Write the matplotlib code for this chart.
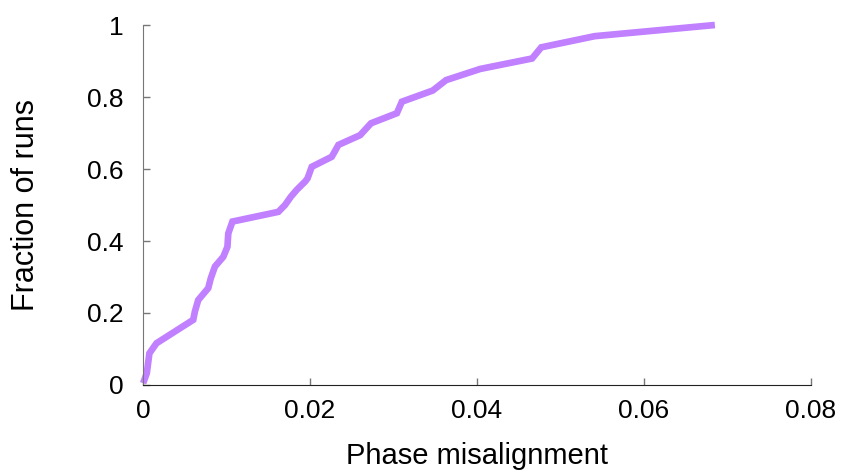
import numpy as np
import matplotlib.pyplot as plt

plt.rcParams['font.family'] = ['Liberation Sans', 'DejaVu Sans']

# phase misalignment (x) vs cumulative fraction of runs (y)
misalign = [0.0000, 0.00044, 0.00075, 0.0016, 0.0060, 0.0062, 0.0066, 0.0078,
            0.0081, 0.0086, 0.0096, 0.0101, 0.0102, 0.0107, 0.0162, 0.0170,
            0.0177, 0.0184, 0.0194, 0.0197, 0.0202, 0.0226, 0.0234, 0.0260,
            0.0273, 0.0304, 0.0310, 0.0347, 0.0363, 0.0404, 0.0466, 0.0477,
            0.0541, 0.0685]
frac = [0.005, 0.033, 0.088, 0.116, 0.181, 0.204, 0.236, 0.269,
        0.296, 0.329, 0.356, 0.384, 0.421, 0.454, 0.481, 0.500,
        0.523, 0.542, 0.565, 0.574, 0.606, 0.634, 0.667, 0.694,
        0.727, 0.755, 0.787, 0.818, 0.847, 0.878, 0.907, 0.938,
        0.969, 1.0]

xticks = [0, 0.02, 0.04, 0.06, 0.08]
xtick_labels = ['0', '0.02', '0.04', '0.06', '0.08']
yticks = [0, 0.2, 0.4, 0.6, 0.8, 1]
ytick_labels = ['0', '0.2', '0.4', '0.6', '0.8', '1']

fig = plt.figure(figsize=(8.42, 4.71), dpi=100)
ax = fig.add_axes([0.170, 0.1826, 0.793, 0.7643])

ax.plot(misalign, frac, color='#c080ff', lw=4.8, clip_on=False,
        solid_joinstyle='miter', solid_capstyle='butt')

ax.set_xlim(0, 0.08)
ax.set_ylim(0, 1)
ax.set_xticks(xticks)
ax.set_xticklabels(xtick_labels)
ax.set_yticks(yticks)
ax.set_yticklabels(ytick_labels)

for s in ['top', 'right']:
    ax.spines[s].set_visible(False)
ax.spines['left'].set_color('#777777')
ax.spines['bottom'].set_color('#222222')
ax.tick_params(direction='in', length=5, width=1, color='#777777',
               labelsize=19, colors='black')
ax.tick_params(axis='y', pad=14)
ax.tick_params(axis='x', pad=10)

ax.set_xlabel('Phase misalignment', fontsize=21, labelpad=14)
ax.set_ylabel('Fraction of runs', fontsize=22, labelpad=33)

fig.savefig('out.png', dpi=100)
